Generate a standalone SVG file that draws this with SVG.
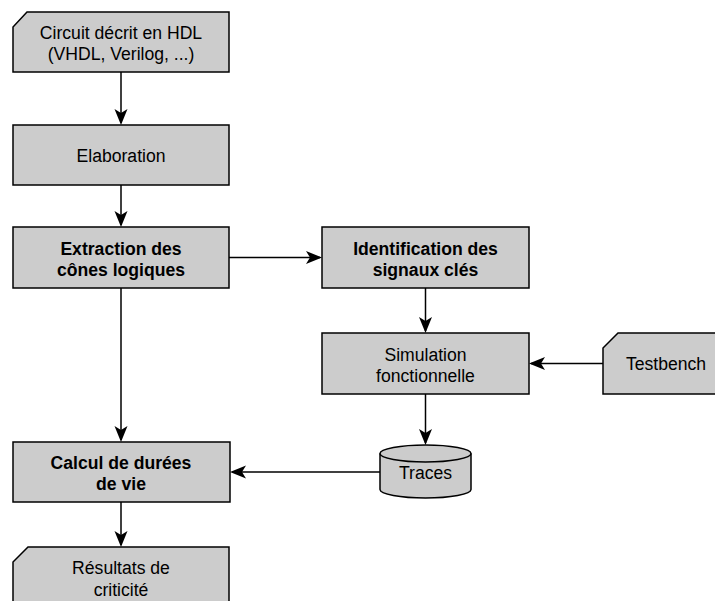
<svg xmlns="http://www.w3.org/2000/svg" width="715" height="601" viewBox="0 0 715 601">
<style>
.box{fill:#cccccc;stroke:#000;stroke-width:1.5}
.t{font-family:"Liberation Sans",Arial,sans-serif;font-size:17.6px;fill:#000;text-anchor:middle}
.b{font-weight:bold}
.c{fill:none;stroke:#000;stroke-width:1.5}
</style>
<defs>
<marker id="arr" viewBox="-16 -7 17 14" refX="-2" refY="0" markerWidth="17" markerHeight="14" markerUnits="userSpaceOnUse" orient="auto">
<path d="M0,0 L-16,-6.5 L-12,0 L-16,6.5 Z" fill="#000"/>
</marker>
</defs>
<rect width="715" height="601" fill="#fff"/>
<g id="connectors">
<path class="c" d="M121,72 V123" marker-end="url(#arr)"/>
<path class="c" d="M121,185 V225" marker-end="url(#arr)"/>
<path class="c" d="M229,257.5 H320" marker-end="url(#arr)"/>
<path class="c" d="M425.5,288 V331" marker-end="url(#arr)"/>
<path class="c" d="M603,363.5 H531" marker-end="url(#arr)"/>
<path class="c" d="M425.5,394 V443" marker-end="url(#arr)"/>
<path class="c" d="M121,288 V440" marker-end="url(#arr)"/>
<path class="c" d="M380,472 H232" marker-end="url(#arr)"/>
<path class="c" d="M121,502 V545" marker-end="url(#arr)"/>
</g>
<g id="hdl">
<path class="box" d="M27,12 H229 V72 H13 V27 Z"/>
<text class="t" x="121" y="38.5">Circuit décrit en HDL</text>
<text class="t" x="121" y="60">(VHDL, Verilog, ...)</text>
</g>
<g id="elaboration">
<rect class="box" x="13" y="125" width="216" height="60"/>
<text class="t" x="121" y="161.5">Elaboration</text>
</g>
<g id="extraction">
<rect class="box" x="13" y="227" width="216" height="61"/>
<text class="t b" x="121" y="254.5">Extraction des</text>
<text class="t b" x="121" y="276">cônes logiques</text>
</g>
<g id="identification">
<rect class="box" x="322" y="227" width="207" height="61"/>
<text class="t b" x="425.5" y="254.5">Identification des</text>
<text class="t b" x="425.5" y="276">signaux clés</text>
</g>
<g id="simulation">
<rect class="box" x="322" y="333" width="207" height="61"/>
<text class="t" x="425.5" y="360.5">Simulation</text>
<text class="t" x="425.5" y="382">fonctionnelle</text>
</g>
<g id="testbench">
<path class="box" d="M618,333 H730 V394 H603 V348 Z"/>
<text class="t" x="666" y="370">Testbench</text>
</g>
<g id="traces">
<path class="box" d="M380,453.5 A45.5,8.5 0 0 1 471,453.5 V489.5 A45.5,8.5 0 0 1 380,489.5 Z"/>
<path class="c" d="M380,453.5 A45.5,8.5 0 0 0 471,453.5"/>
<text class="t" x="425.5" y="478.5">Traces</text>
</g>
<g id="calcul">
<rect class="box" x="13" y="442" width="217" height="60"/>
<text class="t b" x="121" y="468.5">Calcul de durées</text>
<text class="t b" x="121" y="490">de vie</text>
</g>
<g id="resultats">
<path class="box" d="M28,547 H229 V610 H13 V562 Z"/>
<text class="t" x="121" y="574">Résultats de</text>
<text class="t" x="121" y="595.5">criticité</text>
</g>
</svg>
